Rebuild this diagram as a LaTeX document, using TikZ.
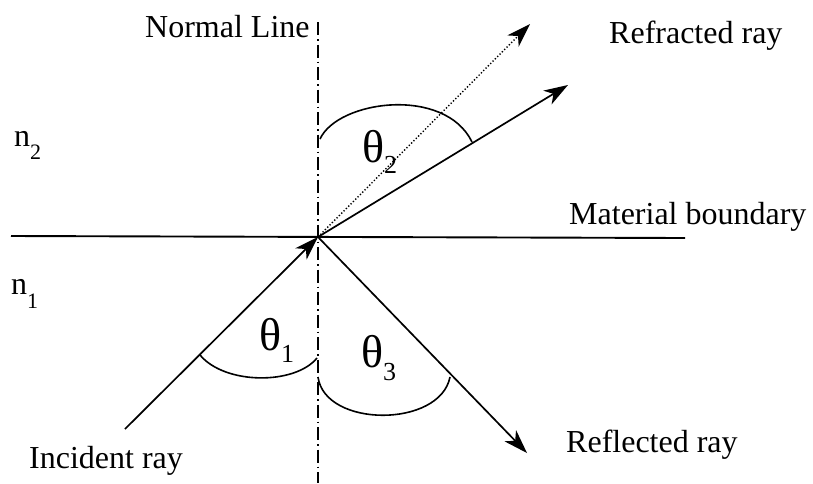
\documentclass[tikz,border=0pt]{standalone}
\usepackage{fontspec}
\setmainfont{Liberation Serif}
\usetikzlibrary{arrows.meta}
\begin{document}
\begin{tikzpicture}[x=1pt,y=-1pt,
  lbl/.style={anchor=base west,inner sep=0pt,font=\fontsize{32}{36}\selectfont},
  ang/.style={anchor=base west,inner sep=0pt,font=\fontsize{46}{50}\selectfont},
  ray/.style={line width=1.7pt,-{Stealth[length=24pt,width=16pt,inset=7pt]}},
  arcline/.style={line width=1.6pt},
  normalline/.style={line width=1.3pt,dash pattern=on 13pt off 4pt on 1.5pt off 4pt}]
\useasboundingbox (0,0) rectangle (813,483);
\coordinate (O) at (318,237);
\coordinate (bl) at (11,236);
\coordinate (br) at (685,238);
\coordinate (nt) at (318,22);
\coordinate (nb) at (318,483);
\coordinate (inc) at (125,429);
\coordinate (refl) at (527,453);
\coordinate (refr) at (568,85);
\coordinate (dot) at (530,24);
% boundary
\draw[line width=1.9pt] (bl) -- (br);
% normal
\draw[normalline] (nt) -- (nb);
% rays
\draw[ray] (inc) -- (O);
\draw[ray] (O) -- (refl);
\draw[ray] (O) -- (refr);
\draw[line width=1.4pt,dash pattern=on 1.3pt off 2pt,-{Stealth[length=24pt,width=16pt,inset=7pt]}] (O) -- (dot);
% angle arcs
\draw[arcline] (320,139) .. controls (338,100) and (445,86) .. (472,142);
\draw[arcline] (200,355) .. controls (225,385) and (295,385) .. (317,358);
\draw[arcline] (318,377) .. controls (325,428) and (440,428) .. (450,377);
% angle labels
\node[ang] (t2) at (362,162) {θ\raisebox{-11pt}{\fontsize{26}{26}\selectfont 2}};
\node[ang] (t1) at (259,350) {θ\raisebox{-12pt}{\fontsize{26}{26}\selectfont 1}};
\node[ang] (t3) at (361,367) {θ\raisebox{-13pt}{\fontsize{26}{26}\selectfont 3}};
% text labels
\node[lbl] (normal) at (145,37) {Normal Line};
\node[lbl] (refrlbl) at (609,43) {Refracted ray};
\node[lbl] (matlbl) at (569,224) {Material boundary};
\node[lbl] (refllbl) at (566,452) {Reflected ray};
\node[lbl] (inclbl) at (29,468) {Incident ray};
\node[lbl] (n2) at (14,146) {n\raisebox{-13pt}{\fontsize{22}{22}\selectfont 2}};
\node[lbl] (n1) at (11,294) {n\raisebox{-14pt}{\fontsize{22}{22}\selectfont 1}};
\end{tikzpicture}
\end{document}
